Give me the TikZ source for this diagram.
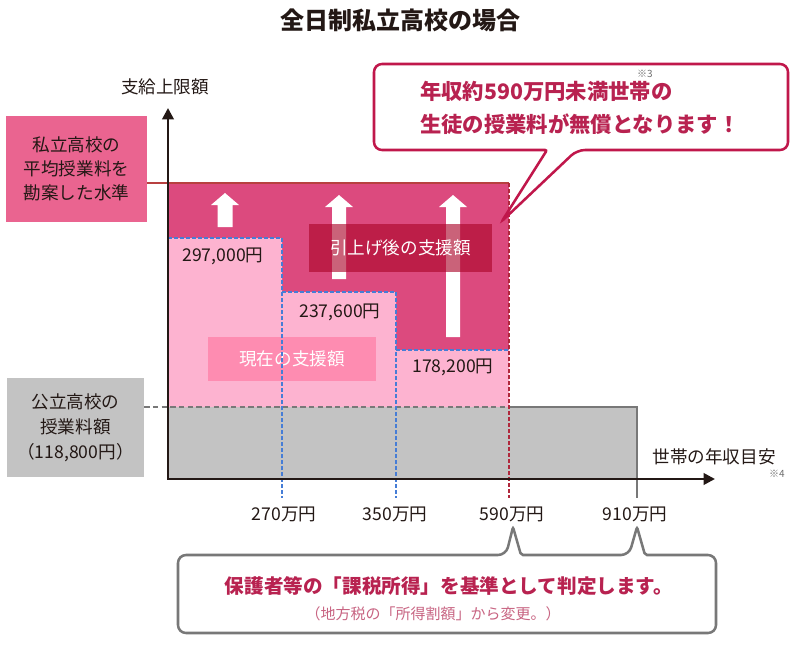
\documentclass[tikz,border=0pt]{standalone}
\usepackage{fontspec}
\setmainfont{Noto Sans CJK JP}
\usetikzlibrary{arrows.meta}
\definecolor{ink}{RGB}{35,24,21}
\definecolor{boxpink}{RGB}{234,100,144}
\definecolor{darkpink}{RGB}{220,74,126}
\definecolor{lightpink}{RGB}{253,179,208}
\definecolor{graybg}{RGB}{195,195,195}
\definecolor{grayline}{RGB}{120,120,120}
\definecolor{crimson}{RGB}{171,3,39}
\definecolor{nowpink}{RGB}{255,127,167}
\definecolor{calloutred}{RGB}{192,23,75}
\definecolor{calltext}{RGB}{184,34,80}
\definecolor{subtext}{RGB}{200,100,130}
\definecolor{bluedash}{RGB}{70,125,214}
\definecolor{reddash}{RGB}{176,40,60}
\definecolor{topline}{RGB}{184,64,64}
\definecolor{notegray}{RGB}{110,110,110}
\begin{document}
\begin{tikzpicture}[x=0.75pt,y=-0.75pt,
  lbl/.style={font=\fontsize{13.2}{18}\selectfont, text=ink, inner sep=0pt},
  sidebox/.style={font=\fontsize{13.2}{18}\selectfont, text=ink, inner sep=0pt, align=center},
  overbox/.style={inner sep=0pt, text=white, text opacity=1, font=\fontsize{13.2}{18}\selectfont},
  note/.style={font=\fontsize{7.5}{9}\selectfont, text=notegray, inner sep=0pt},
  uparrow/.style={fill=white, draw=none},
  bdash/.style={draw=bluedash, line width=1.1pt, dash pattern=on 3pt off 1.5pt}
]
\useasboundingbox (0,0) rectangle (800,650);

% title
\node[font=\fontsize{18}{20}\bfseries\selectfont, text=ink, inner sep=0pt] (title) at (400,20) {全日制私立高校の場合};

% chart fills
\fill[darkpink] (168,183) rectangle (509,407);
\fill[lightpink] (168,238) -- (282,238) -- (282,292) -- (396,292) -- (396,350) -- (509,350) -- (509,407) -- (168,407) -- cycle;
\fill[graybg] (168,407) rectangle (637,479);

% white arrows
\fill[uparrow] (225,193) -- (239,205) -- (232.5,205) -- (232.5,227) -- (217.5,227) -- (217.5,205) -- (211,205) -- cycle;
\fill[uparrow] (339,195) -- (353,207) -- (346,207) -- (346,279) -- (332,279) -- (332,207) -- (325,207) -- cycle;
\fill[uparrow] (453,195) -- (467,207) -- (460,207) -- (460,337) -- (446,337) -- (446,207) -- (439,207) -- cycle;

% overlay boxes
\node[overbox, fill=crimson, fill opacity=0.62, minimum width=137.25pt, minimum height=36pt] (after) at (400.5,248) {引上げ後の支援額};
\node[overbox, fill=nowpink, fill opacity=0.75, minimum width=126pt, minimum height=33pt] (now) at (292,359) {現在の支援額};

% left boxes
\node[sidebox, fill=boxpink, minimum width=105.75pt, minimum height=79.5pt] (privbox) at (76.5,169) {私立高校の\\平均授業料を\\勘案した水準};
\node[sidebox, fill=graybg, minimum width=102.75pt, minimum height=74.25pt, font=\fontsize{13.2}{18.75}\selectfont] (pubbox) at (75.5,427.5) {公立高校の\\授業料額\\（118,800円）};

% guide lines
\draw[topline, line width=0.9pt] (privbox.east |- 0,183) -- (509,183);
\draw[grayline, line width=1pt, dash pattern=on 4pt off 2.5pt] (pubbox.east |- 0,407) -- (509,407);
\draw[grayline, line width=1.2pt] (509,407) -- (637,407) -- (637,498);
\draw[bdash] (168,238) -- (282,238) -- (282,498);
\draw[bdash] (282,292) -- (396,292) -- (396,498);
\draw[bdash] (396,350) -- (509,350);
\draw[reddash, line width=1pt, dash pattern=on 3pt off 1.5pt] (509,183) -- (509,498);

% axes
\coordinate (ytop) at (168,108);
\coordinate (xend) at (715,479);
\coordinate (origin) at (168,479);
\draw[ink, line width=2pt, {Triangle[length=8.5pt,width=8.5pt]}-{Triangle[length=8.5pt,width=8.5pt]}] (ytop) -- (origin) -- (xend);

% axis labels
\node[lbl] (ylabel) at (165,87) {支給上限額};
\node[lbl] (xlabel) at (714,457) {世帯の年収目安};
\node[note] (n4) at (777,474) {※4};

% value labels
\node[lbl] (v1) at (223,256) {297,000円};
\node[lbl] (v2) at (340,312) {237,600円};
\node[lbl] (v3) at (453,367) {178,200円};

\node[lbl] (t1) at (284,514) {270万円};
\node[lbl] (t2) at (395,514) {350万円};
\node[lbl] (t3) at (512,514) {590万円};
\node[lbl] (t4) at (635,514) {910万円};

% top callout
\draw[calloutred, fill=white, line width=1.9pt, rounded corners=6pt]
  (374,64) -- (788,64) -- (788,150) -- (577,150) [rounded corners=1.5pt] -- (502,221) -- (547,150) [rounded corners=6pt] -- (374,150) -- cycle;
\node[font=\fontsize{16}{24}\bfseries\selectfont, text=calltext, inner sep=0pt, anchor=west] (c1) at (420,91) {年収約590万円未満世帯の};
\node[font=\fontsize{16}{24}\bfseries\selectfont, text=calltext, inner sep=0pt, anchor=west] (c2) at (420,124) {生徒の授業料が無償となります！};
\node[note] (n3) at (645,74) {※3};

% bottom callout
\draw[grayline, fill=white, line width=1.9pt, rounded corners=6pt]
  (178,555) -- (506,555) [rounded corners=1.5pt] -- (513,527) -- (521,555) [rounded corners=6pt] -- (629,555) [rounded corners=1.5pt] -- (637,527) -- (645,555) [rounded corners=6pt] -- (716,555) -- (716,633) -- (178,633) -- cycle;
\node[font=\fontsize{14.7}{18}\bfseries\selectfont, text=calltext, inner sep=0pt] (b1) at (449,586) {保護者等の「課税所得」を基準として判定します。};
\node[font=\fontsize{11.25}{14}\selectfont, text=subtext, inner sep=0pt] (b2) at (433,614) {（地方税の「所得割額」から変更。）};
\end{tikzpicture}
\end{document}
